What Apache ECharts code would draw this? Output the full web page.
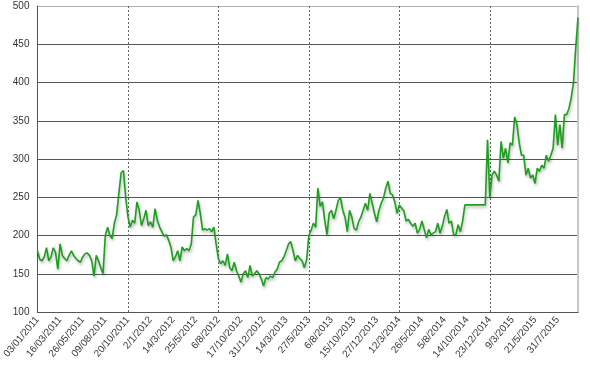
<!DOCTYPE html>
<html>
<head>
<meta charset="utf-8">
<style>html,body{margin:0;padding:0;background:#fff;}#c{width:590px;height:365px;}</style>
<script src="https://cdn.jsdelivr.net/npm/echarts@6/dist/echarts.min.js"></script>
</head>
<body>
<div id="c"></div>
<script>
var tickLabels = ['03/01/2011','16/03/2011','26/05/2011','09/08/2011','20/10/2011','2/1/2012','14/3/2012','25/5/2012','6/8/2012','17/10/2012','31/12/2012','14/3/2013','27/5/2013','6/8/2013','15/10/2013','27/12/2013','12/3/2014','26/5/2014','5/8/2014','14/10/2014','23/12/2014','9/3/2015','21/5/2015','31/7/2015'];
var pointsPerTick = 10;
var dashedEvery = 40;

var values2011a = [180,169,167,172,184,167,172,184,178,156,189,174,170,167,174,180,174,170,167,165,172,176,177,174,167,147,174,167,158,150,200,211,200,196,216,227,255,282,285,250];
var values2011b = [225,211,220,216,244,233,213,222,233,213,218,211,235,220,211,205,199,201,194,185,167,172,180,167,185,180,183,180,189,224,227,246,229,207,209,207,209,205,211,189];
var values2012 = [170,163,167,161,176,158,154,165,154,147,139,150,154,145,161,147,150,154,150,143,134,145,143,147,145,152,156,165,167,172,180,189,192,180,167,174,170,167,158,168];
var values2013 = [200,207,216,211,262,238,244,220,201,229,233,222,233,246,249,233,224,205,233,224,209,207,218,224,233,242,233,255,242,229,218,233,242,249,262,271,255,253,244,229];
var values2014 = [240,236,232,219,221,216,212,216,203,208,219,208,197,208,201,203,205,216,203,212,225,234,216,219,201,201,214,205,219,240,240,240,240,240,240,240,240,240,240,325];
var values2015 = [250,279,284,279,271,323,301,314,295,321,318,355,345,321,305,305,279,288,275,279,268,288,284,292,288,305,297,305,314,358,318,345,314,358,358,366,380,400,445,485];

var values = [].concat(values2011a, values2011b, values2012, values2013, values2014, values2015);
var categories = values.map(function(v, i){ return String(i); });

var chart = echarts.init(document.getElementById('c'));
chart.setOption({
  animation: false,
  backgroundColor: '#ffffff',
  grid: { left: 36, right: 12, top: 6, bottom: 53, containLabel: false },
  xAxis: {
    type: 'category',
    data: categories,
    boundaryGap: false,
    axisLine: { show: true, lineStyle: { color: '#555', width: 1 } },
    axisTick: { show: false },
    axisLabel: {
      interval: function(idx){ return idx % pointsPerTick === 0; },
      formatter: function(v, idx){ return tickLabels[Math.round(idx / pointsPerTick)] || ''; },
      rotate: 50,
      fontFamily: 'Liberation Sans, Arial, sans-serif',
      fontSize: 10,
      color: '#333',
      margin: 6
    },
    splitLine: {
      show: true,
      interval: function(idx){ return idx > 0 && idx % dashedEvery === 0; },
      lineStyle: { color: '#666', type: [2, 2], width: 1 }
    }
  },
  yAxis: [{
    type: 'value',
    min: 100, max: 500, interval: 50,
    axisLine: { show: true, lineStyle: { color: '#555', width: 1 } },
    axisTick: { show: false },
    axisLabel: { fontFamily: 'Liberation Sans, Arial, sans-serif', fontSize: 10, color: '#333', margin: 8 },
    splitLine: { show: true, lineStyle: { color: ['#555','#555','#555','#555','#555','#555','#555','#555','#b0b0b0'], width: 1 } }
  }, {
    type: 'value',
    position: 'right',
    min: 100, max: 500, interval: 50,
    axisLine: { show: true, lineStyle: { color: '#c8c8c8', width: 2 } },
    axisTick: { show: false },
    axisLabel: { show: false },
    splitLine: { show: false }
  }],
  series: [{
    type: 'line',
    data: values,
    symbol: 'none',
    smooth: false,
    lineStyle: { color: '#1e9e1e', width: 1.6, shadowColor: 'rgba(0,0,0,0.3)', shadowBlur: 3, shadowOffsetX: 1, shadowOffsetY: 2 }
  }]
});
</script>
</body>
</html>
